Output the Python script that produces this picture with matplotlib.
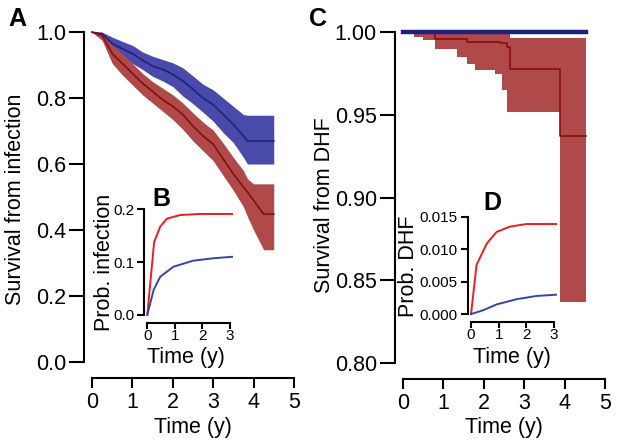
import matplotlib
matplotlib.use("Agg")
import matplotlib.pyplot as plt
from matplotlib.ticker import FormatStrFormatter

plt.rcParams["font.family"] = ["Liberation Sans", "DejaVu Sans"]

# Panel A: survival from infection (KM estimate + 95% band)
time_a = [0, 0.25, 0.5, 0.75, 1.0, 1.25, 1.5, 1.75, 2.0, 2.25, 2.5, 2.75,
          3.0, 3.25, 3.5, 3.75, 3.85, 4.0, 4.25, 4.5]
blue_surv_a = [1.0, 0.995, 0.965, 0.95, 0.935, 0.915, 0.897, 0.887, 0.872, 0.852,
               0.827, 0.80, 0.78, 0.75, 0.72, 0.685, 0.67, 0.67, 0.67, 0.67]
blue_up_a = [1.0, 1.0, 0.985, 0.972, 0.96, 0.94, 0.927, 0.917, 0.907, 0.892,
             0.867, 0.842, 0.825, 0.80, 0.775, 0.75, 0.748, 0.748, 0.748, 0.748]
blue_low_a = [1.0, 0.99, 0.945, 0.925, 0.905, 0.887, 0.866, 0.852, 0.835, 0.806,
              0.783, 0.757, 0.73, 0.695, 0.665, 0.62, 0.60, 0.60, 0.60, 0.60]
red_surv_a = [1.0, 0.99, 0.935, 0.905, 0.875, 0.845, 0.82, 0.795, 0.775, 0.75,
              0.715, 0.685, 0.66, 0.615, 0.57, 0.53, 0.515, 0.49, 0.448, 0.448]
red_up_a = [1.0, 1.0, 0.96, 0.935, 0.905, 0.875, 0.85, 0.83, 0.81, 0.785,
            0.755, 0.727, 0.703, 0.663, 0.62, 0.58, 0.555, 0.54, 0.54, 0.54]
red_low_a = [1.0, 0.975, 0.905, 0.87, 0.84, 0.81, 0.785, 0.76, 0.735, 0.705,
             0.67, 0.64, 0.61, 0.565, 0.52, 0.47, 0.44, 0.40, 0.34, 0.34]

# Panel C: survival from DHF
time_c = [0, 0.26, 0.50, 0.79, 1.33, 1.58, 1.78, 2.28, 2.40, 2.45, 2.57, 2.65, 3.89, 4.53]
red_surv_c = [1.0, 1.0, 1.0, 0.9962, 0.9962, 0.9941, 0.9941, 0.9941, 0.9932,
              0.9932, 0.9911, 0.978, 0.937, 0.937]
red_up_c = [1.0, 1.0, 1.0, 1.0, 1.0, 1.0, 1.0, 1.0, 1.0, 1.0, 1.0, 0.9965, 0.9965, 0.9965]
red_low_c = [0.9994, 0.997, 0.995, 0.9897, 0.985, 0.9805, 0.977, 0.9746, 0.9746,
             0.965, 0.9516, 0.9516, 0.8368, 0.8368]
blue_time_c = [0, 4.53]
blue_surv_c = [1.0, 1.0]

# Inset B: probability of infection
time_b_red = [0, 0.25, 0.47, 0.71, 1.19, 1.91, 3.12]
prob_b_red = [0, 0.138, 0.167, 0.182, 0.189, 0.191, 0.191]
time_b_blue = [0, 0.23, 0.47, 0.95, 1.67, 2.39, 3.12]
prob_b_blue = [0, 0.047, 0.072, 0.091, 0.1025, 0.107, 0.110]

# Inset D: probability of DHF
time_d_red = [0, 0.2, 0.57, 0.93, 1.41, 2.01, 3.09]
prob_d_red = [0, 0.0076, 0.0109, 0.0127, 0.0135, 0.0139, 0.0139]
time_d_blue = [0, 0.44, 0.93, 1.65, 2.37, 3.09]
prob_d_blue = [0, 0.0006, 0.0015, 0.0023, 0.0028, 0.0030]

W, H = 618, 447
BLUE_FILL = "#4a4aaa"
BLUE_LINE = "#20207e"
RED_FILL = "#b04a4a"
RED_LINE = "#8b0c0c"

fig = plt.figure(figsize=(W / 100, H / 100), dpi=100)


def px_axes(x0, x1, y0, y1):
    return fig.add_axes([x0 / W, 1 - y1 / H, (x1 - x0) / W, (y1 - y0) / H])


def ftext(x, y, s, **kw):
    fig.text(x / W, 1 - y / H, s, ha="center", va="center", **kw)


def r_style(ax, xb, yb, ylen, xlen, ysize, xsize, out=2, xpad=3):
    ax.set_facecolor("none")
    for s in ["top", "right"]:
        ax.spines[s].set_visible(False)
    ax.spines["left"].set_bounds(*yb)
    ax.spines["bottom"].set_bounds(*xb)
    ax.spines["bottom"].set_position(("outward", out))
    for s in ["left", "bottom"]:
        ax.spines[s].set_linewidth(1.5)
    ax.tick_params(axis="y", length=ylen, width=1.5, labelsize=ysize, pad=2)
    ax.tick_params(axis="x", length=xlen, width=1.5, labelsize=xsize, pad=xpad)


# ---- Panel A
ax = px_axes(84, 302, 19, 375)
ax.fill_between(time_a, blue_low_a, blue_up_a, color=BLUE_FILL, lw=0)
ax.fill_between(time_a, red_low_a, red_up_a, color=RED_FILL, lw=0)
ax.plot(time_a, blue_surv_a, color=BLUE_LINE, lw=1.2)
ax.plot(time_a, red_surv_a, color=RED_LINE, lw=1.2)
ax.set_xlim(-0.2, 5.2)
ax.set_ylim(-0.04, 1.04)
ax.set_xticks(range(6))
ax.set_yticks([0, 0.2, 0.4, 0.6, 0.8, 1.0])
ax.yaxis.set_major_formatter(FormatStrFormatter("%.1f"))
r_style(ax, (0, 5), (0, 1), 11, 7.5, 15.5, 15.5)

# ---- Panel C
ax = px_axes(395, 613, 19, 376)
ax.fill_between(time_c, red_low_c, red_up_c, step="post", color=RED_FILL, lw=0)
ax.step(time_c, red_surv_c, where="post", color=RED_LINE, lw=1.2)
ax.plot(blue_time_c, blue_surv_c, color=BLUE_LINE, lw=3.2)
ax.set_xlim(-0.2, 5.2)
ax.set_ylim(0.792, 1.008)
ax.set_xticks(range(6))
ax.set_yticks([0.80, 0.85, 0.90, 0.95, 1.00])
ax.yaxis.set_major_formatter(FormatStrFormatter("%.2f"))
r_style(ax, (0, 5), (0.8, 1.0), 11, 7.5, 15.5, 15.5)

# ---- Inset B
ax = px_axes(144, 233, 205, 319)
ax.plot(time_b_red, prob_b_red, color="#ee1c1c", lw=1.4)
ax.plot(time_b_blue, prob_b_blue, color="#3346a8", lw=1.4)
ax.set_xlim(-0.12, 3.12)
ax.set_ylim(-0.008, 0.208)
ax.set_xticks([0, 1, 2, 3])
ax.set_yticks([0, 0.1, 0.2])
ax.yaxis.set_major_formatter(FormatStrFormatter("%.1f"))
r_style(ax, (0, 3), (0, 0.2), 5, 4, 11, 11, out=3, xpad=0.5)

# ---- Inset D
ax = px_axes(467.7, 557.3, 213, 318)
ax.plot(time_d_red, prob_d_red, color="#ee1c1c", lw=1.4)
ax.plot(time_d_blue, prob_d_blue, color="#3346a8", lw=1.4)
ax.set_xlim(-0.12, 3.12)
ax.set_ylim(-0.0006, 0.0156)
ax.set_xticks([0, 1, 2, 3])
ax.set_yticks([0, 0.005, 0.010, 0.015])
ax.yaxis.set_major_formatter(FormatStrFormatter("%.3f"))
r_style(ax, (0, 3), (0, 0.015), 5, 4, 11, 11, out=3, xpad=0.5)

# labels
ftext(16, 199, "Survival from infection", rotation=90, size=15.5)
ftext(193, 427, "Time (y)", size=15.5)
ftext(325, 205, "Survival from DHF", rotation=90, size=15.5)
ftext(504, 427, "Time (y)", size=15.5)
ftext(104, 262, "Prob. infection", rotation=90, size=15.5)
ftext(186, 357, "Time (y)", size=15.5)
ftext(409, 266, "Prob. DHF", rotation=90, size=15.5)
ftext(512, 357, "Time (y)", size=15.5)

for x, y, s in [(17, 19, "A"), (318, 19, "C"), (161, 199, "B"), (492, 203, "D")]:
    ftext(x, y, s, size=18, weight="bold")

fig.savefig("out.png", dpi=100)
